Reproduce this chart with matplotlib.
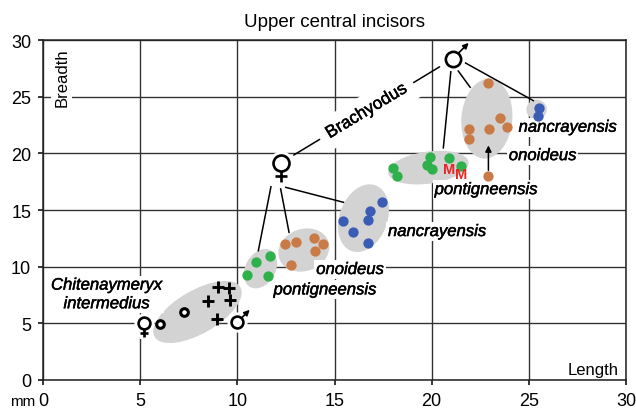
import math
import matplotlib
matplotlib.use('Agg')
import matplotlib.pyplot as plt
from matplotlib.patches import Ellipse
from matplotlib.transforms import Affine2D, offset_copy
import matplotlib.patheffects as pe

plt.rcParams['font.family'] = ['Liberation Sans', 'DejaVu Sans']

# measurements, mm (length, breadth)
chit_o_x = [6.0, 7.27]
chit_o_y = [4.94, 6.03]
chit_p_x = [9.02, 9.59, 8.51, 9.64, 8.97]
chit_p_y = [8.18, 8.09, 6.94, 7.09, 5.38]

green_x = [10.48, 10.96, 11.68, 11.6, 18.03, 18.2, 19.92, 19.75, 20.0, 20.91, 21.51]
green_y = [9.27, 10.38, 10.97, 9.2, 18.71, 18.03, 19.71, 19.0, 18.62, 19.6, 18.91]
orange_x = [12.45, 13.02, 12.76, 13.96, 14.43, 14.0, 22.92, 23.52, 23.9, 22.95, 21.94, 21.94, 22.92]
orange_y = [12.0, 12.14, 10.15, 12.53, 12.0, 11.41, 26.18, 23.12, 22.29, 22.15, 22.15, 21.27, 18.03]
blue_x = [17.46, 16.83, 16.71, 15.46, 15.94, 16.71, 25.5, 25.47]
blue_y = [15.74, 14.89, 14.12, 14.0, 13.03, 12.05, 24.0, 23.33]
molar_x = [20.92, 21.54]
molar_y = [18.62, 18.18]

# grey groups: centre, width, height (mm on length scale), angle
groups = [
    ((7.95, 6.0), 5.1, 2.22, 30),
    ((11.19, 9.82), 2.16, 1.54, 60),
    ((13.42, 11.47), 2.68, 2.16, 20),
    ((16.49, 14.28), 3.6, 2.47, 70),
    ((19.83, 18.74), 4.17, 1.65, 8),
    ((22.84, 23.06), 4.12, 2.62, 85),
    ((25.4, 23.87), 1.05, 1.0, 0),
]

labels = [
    ('Chitenaymeryx\nintermedius', 3.27, 7.55),
    ('pontigneensis', 14.51, 7.95),
    ('onoideus', 15.8, 9.75),
    ('nancrayensis', 20.28, 13.1),
    ('nancrayensis', 27.0, 22.3),
    ('onoideus', 25.71, 19.8),
    ('pontigneensis', 22.8, 16.8),
]

fem_big = (12.23, 19.15)
male_big = (21.08, 28.33)
fem_small = (5.2, 5.0)
male_small = (10.0, 5.1)

# link lines from symbols to groups
links = [
    ((11.73, 17.05), (11.08, 11.41)),
    ((12.23, 16.86), (12.66, 13.03)),
    ((12.49, 17.0), (15.46, 15.68)),
    ((21.0, 27.45), (20.6, 20.48)),
    ((21.29, 27.45), (21.98, 25.83)),
    ((21.67, 28.04), (25.23, 24.65)),
]

fig = plt.figure(figsize=(6.36, 4.1), dpi=100)
ax = fig.add_axes([43/636, 29/410, 583/636, 340/410])
ax.set_xlim(0, 30)
ax.set_ylim(0, 30)
ax.set_xticks(range(0, 31, 5))
ax.set_yticks(range(0, 31, 5))
ax.tick_params(direction='out', length=3.5, width=1.1, labelsize=13, pad=5, colors='black')
for s in ax.spines.values():
    s.set_linewidth(1.1)
    s.set_color('#222222')
ax.grid(True, color='#333333', lw=1.0, zorder=0)
ax.set_axisbelow(True)

k = (583/30) / (340/30)
iso = Affine2D().scale(1, k) + ax.transData
for (cx, cy), w, h, a in groups:
    ax.add_patch(Ellipse((cx, cy/k), w, h, angle=a, transform=iso,
                         facecolor='#d3d3d3', edgecolor='none', zorder=1))

for (x0, y0), (x1, y1) in links:
    ax.plot([x0, x1], [y0, y1], color='black', lw=1.1, zorder=2)

ax.scatter(green_x, green_y, s=55, color='#2eb04b', zorder=4.5, linewidths=0)
ax.scatter(orange_x, orange_y, s=55, color='#c97b47', zorder=4.5, linewidths=0)
ax.scatter(blue_x, blue_y, s=55, color='#3b5cb4', zorder=4.5, linewidths=0)
ax.plot(chit_o_x, chit_o_y, 'o', ms=5.5, mfc='white', mec='black', mew=2.2, zorder=3)
ax.plot(chit_p_x, chit_p_y, '+', ms=8.5, mew=2.1, color='black', zorder=3)
for mx, my in zip(molar_x, molar_y):
    ax.text(mx, my, 'M', color='#ee2222', fontsize=10.5, fontweight='bold',
            family=['Liberation Sans Narrow', 'Liberation Sans'],
            ha='center', va='center', zorder=4.6)

# arrow from the stray onoideus tooth into its group
ax.annotate('', xy=(22.92, 20.7), xytext=(22.92, 18.5),
            arrowprops=dict(arrowstyle='-|>', color='black', lw=1.1,
                            mutation_scale=9, shrinkA=0, shrinkB=0), zorder=2)

thick = [pe.withStroke(linewidth=0.35, foreground='black')]
for txt, x, y in labels:
    ax.text(x, y, txt, fontsize=12, style='italic', ha='center', va='center',
            linespacing=1.3, zorder=4, path_effects=thick,
            bbox=dict(facecolor='white', edgecolor='none', pad=1.5))


def female(x, y, size):
    tr = offset_copy(ax.transData, fig=fig, x=0, y=-size*0.82, units='points')
    ax.plot(x, y, 'o', ms=size + 5, color='white', zorder=5)
    ax.plot(x, y, '+', ms=size*0.7 + 2, mew=6, color='white', transform=tr, zorder=5)
    ax.plot(x, y, '+', ms=size*0.7, mew=1.9, color='black', transform=tr, zorder=6)
    ax.plot(x, y, 'o', ms=size, mfc='white', mec='black', mew=1.9, zorder=6)


def male(x, y, size):
    ax.plot(x, y, 'o', ms=size + 5, color='white', zorder=5)
    head = offset_copy(ax.transData, fig=fig, x=size*1.05, y=size*1.05, units='points')
    ax.annotate('', xy=(x, y), xycoords=head, xytext=(x, y), textcoords='data',
                arrowprops=dict(arrowstyle='-|>', color='black', lw=1.2,
                                mutation_scale=8, shrinkA=size/2, shrinkB=0),
                zorder=6)
    ax.plot(x, y, 'o', ms=size, mfc='white', mec='black', mew=1.9, zorder=6)


female(*fem_big, 11.5)
male(*male_big, 11.0)
female(*fem_small, 8.5)
male(*male_small, 8.5)

# Brachyodus: line between the two big symbols with the name on it
p0 = ax.transData.transform(fem_big)
p1 = ax.transData.transform(male_big)
ang = math.degrees(math.atan2(p1[1]-p0[1], p1[0]-p0[0]))
ax.annotate('', xy=male_big, xytext=fem_big,
            arrowprops=dict(arrowstyle='-', color='black', lw=1.1, shrinkA=11, shrinkB=11),
            zorder=2)
mid = ((fem_big[0]+male_big[0])/2, (fem_big[1]+male_big[1])/2)
ax.text(mid[0], mid[1], 'Brachyodus', fontsize=12.5, rotation=ang, rotation_mode='anchor',
        ha='center', va='center', zorder=4, path_effects=thick,
        bbox=dict(facecolor='white', edgecolor='none', pad=6))

ax.text(0.032, 0.979, 'Breadth', transform=ax.transAxes, rotation=90, fontsize=12,
        ha='center', va='top', zorder=4,
        bbox=dict(facecolor='white', edgecolor='none', pad=2))
ax.text(0.988, 0.008, 'Length', transform=ax.transAxes, fontsize=12,
        ha='right', va='bottom', zorder=4,
        bbox=dict(facecolor='white', edgecolor='none', pad=1))
fig.text(23/636, 1 - 402/410, 'mm', fontsize=11, ha='center', va='center')
ax.set_title('Upper central incisors', fontsize=13.5, pad=10)

fig.savefig('out.png', dpi=100)
